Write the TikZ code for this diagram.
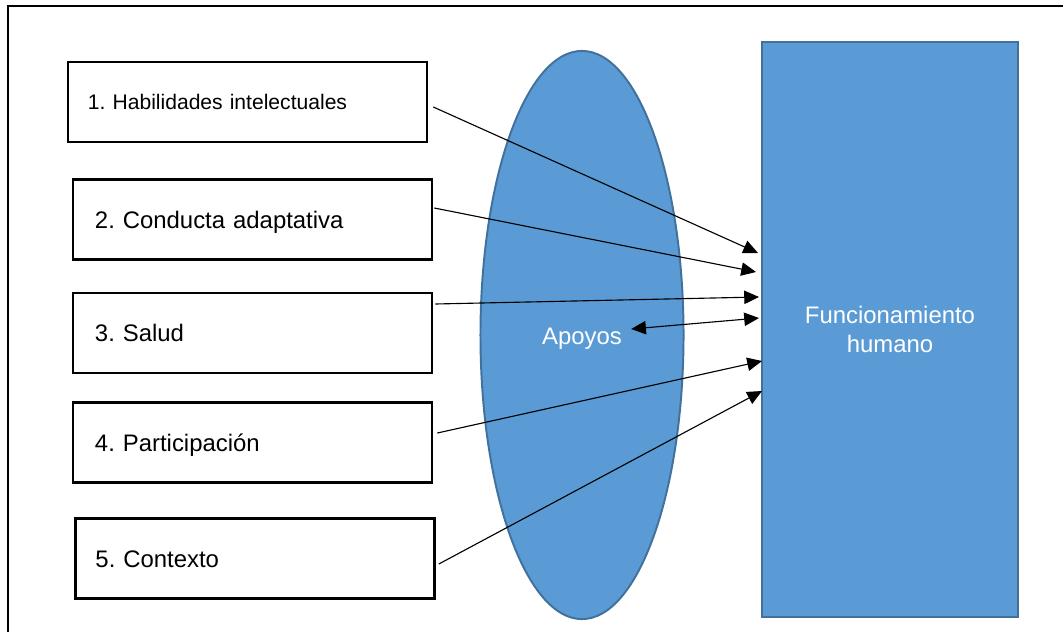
\documentclass[tikz,border=0pt]{standalone}
\usepackage{fontspec}
\setmainfont{Liberation Sans}
\usetikzlibrary{arrows.meta,shapes.geometric}
\frenchspacing

\definecolor{azul}{HTML}{5B9BD5}
\definecolor{azulborde}{HTML}{41719C}

\tikzset{
  factor/.code={\pgfmathsetlengthmacro\anchotexto{8.975cm-2*#1}%
    \tikzset{draw, line width=1.8pt, minimum height=2cm, align=left,
      inner xsep=#1, text width=\anchotexto, text height=12.2pt, text depth=0pt,
      font=\fontsize{17}{20}\selectfont}},
  azulado/.style={draw=azulborde, fill=azul, line width=1.4pt, inner sep=0pt},
  punta/.tip={Triangle[length=10.5pt,width=9.5pt]},
  flecha/.style={-punta, line width=0.8pt},
}

\begin{document}
\begin{tikzpicture}[x=0.025cm, y=-0.025cm]
        \useasboundingbox (0,0) rectangle (1063,631);
        \clip (0,0) rectangle (1063,631);

        % Marco exterior
        \draw[line width=1.9pt] (8,660) -- (8,6) -- (1080,6);

        % Apoyos y funcionamiento
        \node[azulado, ellipse, minimum width=5.075cm, minimum height=14.2cm] (apoyo) at (582,335) {};
        \node[text=white, inner sep=0pt, text height=12.2pt, text depth=0pt,
              font=\fontsize{17}{20}\selectfont] (apo) at (582,336) {Apoyos};
        \node[azulado, minimum width=6.4cm, minimum height=14.375cm, text=white, align=center,
              font=\fontsize{17}{20.5}\selectfont] (fh) at (890,329.5) {Funcionamiento\\humano};

        % Dimensiones
        \node[factor=0.5cm, font=\fontsize{15}{18}\selectfont, text height=10.8pt] (b1) at (247.5,102) {1. Habilidades intelectuales};
        \node[factor=0.55cm] (b2) at (252.5,219.5) {2. Conducta adaptativa};
        \node[factor=0.55cm] (b3) at (252.5,333) {3. Salud};
        \node[factor=0.55cm] (b4) at (252.5,442.5) {4. Participación};
        \node[factor=0.5cm] (b5) at (255,558.5) {5. Contexto};

        % Puntas sobre el rectangulo
        \coordinate (t1) at (758,253);
        \coordinate (t2) at (756,272);
        \coordinate (t3) at (759,297);
        \coordinate (tA) at (759,318);
        \coordinate (t4) at (762,361);
        \coordinate (t5) at (762,391);

        % Flechas
        \draw[flecha] ([shift={(5,5)}]b1.east) -- (t1);
        \draw[flecha] ([shift={(1,-11.5)}]b2.east) -- (t2);
        \draw[flecha] ([shift={(2,-29)}]b3.east) -- (t3);
        \draw[flecha, punta-punta] ([shift={(9,-7)}]apo.east) -- (tA);
        \draw[flecha] ([shift={(4,-9.5)}]b4.east) -- (t4);
        \draw[flecha] ([shift={(3,5.5)}]b5.east) -- (t5);
\end{tikzpicture}
\end{document}
